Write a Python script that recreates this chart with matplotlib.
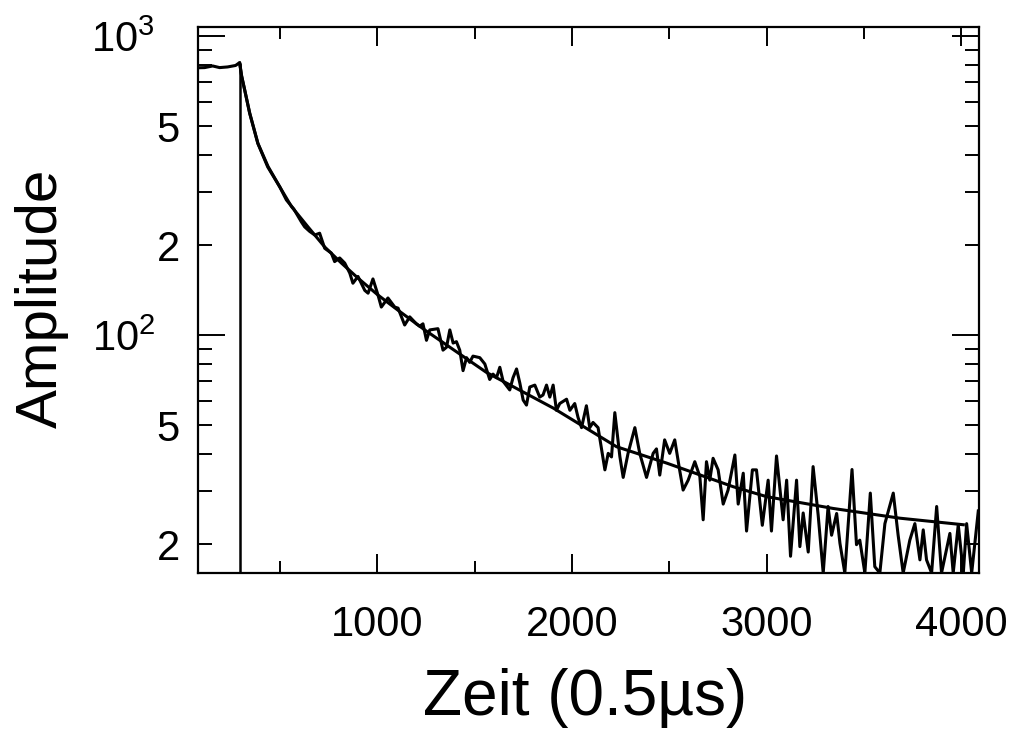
import matplotlib.pyplot as plt
from matplotlib.ticker import FixedLocator, FixedFormatter

zeit = [78, 112, 153, 189, 230, 271, 292, 302, 318, 343, 385, 436, 498, 532, 570,
        609, 626, 652, 678, 703, 729, 763, 780, 806, 832, 858, 874, 900, 935, 952,
        977, 1003, 1020, 1054, 1089, 1106, 1140, 1166, 1200, 1217, 1234, 1252, 1269,
        1311, 1337, 1355, 1372, 1389, 1406, 1423, 1440, 1458, 1474, 1491, 1526, 1552,
        1577, 1594, 1612, 1629, 1646, 1680, 1697, 1715, 1732, 1749, 1766, 1783, 1809,
        1834, 1851, 1869, 1886, 1903, 1920, 1937, 1972, 1989, 2014, 2031, 2049, 2074,
        2091, 2108, 2134, 2169, 2186, 2203, 2220, 2246, 2263, 2288, 2323, 2348, 2383,
        2417, 2434, 2451, 2476, 2502, 2528, 2553, 2571, 2597, 2631, 2657, 2674, 2691,
        2708, 2725, 2751, 2777, 2802, 2837, 2854, 2880, 2897, 2927, 2948, 2978, 3008,
        3025, 3051, 3085, 3103, 3123, 3154, 3171, 3188, 3214, 3239, 3265, 3291, 3316,
        3334, 3360, 3377, 3402, 3439, 3462, 3479, 3505, 3533, 3556, 3582, 3608, 3651,
        3676, 3702, 3736, 3762, 3788, 3805, 3822, 3848, 3874, 3899, 3942, 3959, 3985,
        4011, 4028, 4054, 4088]
amplitude = [783, 784, 794, 784, 788, 797, 815, 735, 659, 553, 438, 365, 313, 283, 264,
             239, 230, 222, 216, 219, 195, 188, 176, 181, 174, 161, 149, 157, 141, 138,
             154, 136, 124, 133, 124, 123, 108, 115, 109, 107, 109, 96, 104,
             105, 89, 91, 104, 94, 95, 89, 76, 84, 81, 85, 84, 80,
             71, 74, 72, 78, 70, 65.5, 72, 77, 69, 60.6, 58.3, 67, 68,
             62, 63, 68, 62, 68, 56, 59, 61, 56, 59, 53, 49, 58,
             49, 51, 49, 35.4, 40.2, 39.1, 55, 39.2, 33.4, 40.2, 49, 40.2, 33.4,
             40.2, 41.6, 34, 44.6, 40.2, 44.6, 35.4, 30.3, 32.7, 37.7, 33.6, 24.1, 37.7,
             32.7, 38.7, 35.4, 27.2, 30.3, 39.7, 27.2, 34.5, 22.1, 35.4, 35.4, 23.1, 32.7,
             22.1, 39.4, 24.1, 32.7, 18.2, 32.7, 19.6, 25.4, 18.8, 36.3, 25.0, 16, 26.7,
             21.4, 25.3, 20.1, 16, 35.5, 19.9, 20.6, 16, 29.6, 16.8, 16, 23.4, 29.6,
             21.4, 16, 20.6, 23.4, 17.7, 22.3, 17.7, 16, 26.7, 16, 21.7, 16, 23.2,
             16, 23.4, 16, 25.8]

# angepasste Kurve
fit_zeit = [292, 302, 318, 344, 386, 438, 498, 558, 643, 729, 815, 900, 1003, 1106,
            1243, 1560, 1903, 2229, 2486, 2828, 3000, 3342, 3685, 4011]
fit_amplitude = [811, 735, 659, 551, 437, 366, 313, 269, 230, 197, 174, 155, 136, 121,
                 104, 75, 57, 42.3, 37.3, 31.1, 28.8, 26.3, 24.4, 23.2]

x_major = [1000, 2000, 3000, 4000]
x_minor = [500, 1500, 2500, 3500]
y_major = [100, 1000]
y_major_labels = [r'$\mathregular{10^2}$', r'$\mathregular{10^3}$']
y_minor = [20, 30, 40, 50, 60, 70, 80, 90, 200, 300, 400, 500, 600, 700, 800, 900]
y_minor_labels = ['2', '', '', '5', '', '', '', '', '2', '', '', '5', '', '', '', '']

plt.rcParams['font.family'] = ['Liberation Sans', 'DejaVu Sans']
plt.rcParams['mathtext.fontset'] = 'custom'
plt.rcParams['mathtext.rm'] = 'Liberation Sans'

fig = plt.figure(figsize=(10.15, 7.33), dpi=100)
ax = fig.add_axes([0.1951, 0.2183, 0.7697, 0.7449])

ax.plot(zeit, amplitude, color='black', lw=2.2)
ax.plot(fit_zeit, fit_amplitude, color='black', lw=2.2)
ax.set_yscale('log')
ax.set_xlim(78, 4093)
ax.set_ylim(16, 1072)
ax.vlines(fit_zeit[0], 16, fit_amplitude[0], color='black', lw=1.8)

ax.xaxis.set_major_locator(FixedLocator(x_major))
ax.xaxis.set_minor_locator(FixedLocator(x_minor))
ax.xaxis.set_minor_formatter(FixedFormatter([''] * len(x_minor)))
ax.yaxis.set_major_locator(FixedLocator(y_major))
ax.yaxis.set_major_formatter(FixedFormatter(y_major_labels))
ax.yaxis.set_minor_locator(FixedLocator(y_minor))
ax.yaxis.set_minor_formatter(FixedFormatter(y_minor_labels))

ax.tick_params(which='both', direction='in', top=True, right=True, width=1.4,
               labelsize=30)
ax.tick_params(axis='x', which='major', length=13.7, pad=23)
ax.tick_params(axis='x', which='minor', length=8.3)
ax.tick_params(axis='y', which='major', length=19.5, pad=31)
ax.tick_params(axis='y', which='minor', length=10, pad=13)
for s in ax.spines.values():
    s.set_linewidth(1.6)

ax.set_xlabel('Zeit (0.5µs)', fontsize=46)
ax.xaxis.label.set_va('baseline')
ax.xaxis.set_label_coords(0.4955, -0.260)
ax.set_ylabel('Amplitude', fontsize=42)
ax.yaxis.label.set_va('center')
ax.yaxis.set_label_coords(-0.1997, 0.5037)

fig.savefig('out.png', dpi=100)
